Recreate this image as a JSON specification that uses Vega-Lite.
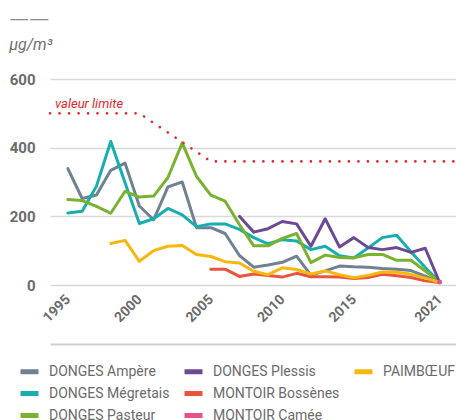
{
  "$schema": "https://vega.github.io/schema/vega-lite/v6.json",
  "width": 406,
  "height": 206,
  "autosize": {"type": "none"},
  "padding": {"left": 50, "top": 79, "right": 0, "bottom": 135},
  "background": "white",
  "title": {
    "text": "——",
    "subtitle": "µg/m³",
    "anchor": "start",
    "frame": "bounds",
    "font": "DejaVu Sans",
    "fontSize": 20,
    "fontWeight": "normal",
    "color": "#8f8f8f",
    "subtitleFont": "Roboto",
    "subtitleFontStyle": "italic",
    "subtitleFontSize": 16,
    "subtitleColor": "#707070",
    "subtitlePadding": 8,
    "offset": 19
  },
  "config": {
    "view": {"stroke": null},
    "font": "Roboto"
  },
  "datasets": {
    "series": [
      {"station": "DONGES Ampère", "year": 1995, "value": 339},
      {"station": "DONGES Ampère", "year": 1996, "value": 252},
      {"station": "DONGES Ampère", "year": 1997, "value": 262},
      {"station": "DONGES Ampère", "year": 1998, "value": 334},
      {"station": "DONGES Ampère", "year": 1999, "value": 355},
      {"station": "DONGES Ampère", "year": 2000, "value": 230},
      {"station": "DONGES Ampère", "year": 2001, "value": 190},
      {"station": "DONGES Ampère", "year": 2002, "value": 286},
      {"station": "DONGES Ampère", "year": 2003, "value": 300},
      {"station": "DONGES Ampère", "year": 2004, "value": 167},
      {"station": "DONGES Ampère", "year": 2005, "value": 167},
      {"station": "DONGES Ampère", "year": 2006, "value": 150},
      {"station": "DONGES Ampère", "year": 2007, "value": 86},
      {"station": "DONGES Ampère", "year": 2008, "value": 52},
      {"station": "DONGES Ampère", "year": 2009, "value": 58},
      {"station": "DONGES Ampère", "year": 2010, "value": 66},
      {"station": "DONGES Ampère", "year": 2011, "value": 84},
      {"station": "DONGES Ampère", "year": 2012, "value": 29},
      {"station": "DONGES Ampère", "year": 2013, "value": 41},
      {"station": "DONGES Ampère", "year": 2014, "value": 55},
      {"station": "DONGES Ampère", "year": 2015, "value": 53},
      {"station": "DONGES Ampère", "year": 2016, "value": 52},
      {"station": "DONGES Ampère", "year": 2017, "value": 48},
      {"station": "DONGES Ampère", "year": 2018, "value": 46},
      {"station": "DONGES Ampère", "year": 2019, "value": 42},
      {"station": "DONGES Ampère", "year": 2020, "value": 26},
      {"station": "DONGES Ampère", "year": 2021, "value": 8},
      {"station": "DONGES Mégretais", "year": 1995, "value": 210},
      {"station": "DONGES Mégretais", "year": 1996, "value": 215},
      {"station": "DONGES Mégretais", "year": 1997, "value": 288},
      {"station": "DONGES Mégretais", "year": 1998, "value": 418},
      {"station": "DONGES Mégretais", "year": 1999, "value": 298},
      {"station": "DONGES Mégretais", "year": 2000, "value": 179},
      {"station": "DONGES Mégretais", "year": 2001, "value": 193},
      {"station": "DONGES Mégretais", "year": 2002, "value": 223},
      {"station": "DONGES Mégretais", "year": 2003, "value": 204},
      {"station": "DONGES Mégretais", "year": 2004, "value": 170},
      {"station": "DONGES Mégretais", "year": 2005, "value": 178},
      {"station": "DONGES Mégretais", "year": 2006, "value": 178},
      {"station": "DONGES Mégretais", "year": 2007, "value": 162},
      {"station": "DONGES Mégretais", "year": 2008, "value": 138},
      {"station": "DONGES Mégretais", "year": 2009, "value": 120},
      {"station": "DONGES Mégretais", "year": 2010, "value": 132},
      {"station": "DONGES Mégretais", "year": 2011, "value": 128},
      {"station": "DONGES Mégretais", "year": 2012, "value": 103},
      {"station": "DONGES Mégretais", "year": 2013, "value": 113},
      {"station": "DONGES Mégretais", "year": 2014, "value": 85},
      {"station": "DONGES Mégretais", "year": 2015, "value": 79},
      {"station": "DONGES Mégretais", "year": 2016, "value": 108},
      {"station": "DONGES Mégretais", "year": 2017, "value": 138},
      {"station": "DONGES Mégretais", "year": 2018, "value": 145},
      {"station": "DONGES Mégretais", "year": 2019, "value": 97},
      {"station": "DONGES Mégretais", "year": 2020, "value": 51},
      {"station": "DONGES Mégretais", "year": 2021, "value": 9},
      {"station": "DONGES Pasteur", "year": 1995, "value": 249},
      {"station": "DONGES Pasteur", "year": 1996, "value": 246},
      {"station": "DONGES Pasteur", "year": 1997, "value": 229},
      {"station": "DONGES Pasteur", "year": 1998, "value": 209},
      {"station": "DONGES Pasteur", "year": 1999, "value": 273},
      {"station": "DONGES Pasteur", "year": 2000, "value": 256},
      {"station": "DONGES Pasteur", "year": 2001, "value": 259},
      {"station": "DONGES Pasteur", "year": 2002, "value": 313},
      {"station": "DONGES Pasteur", "year": 2003, "value": 414},
      {"station": "DONGES Pasteur", "year": 2004, "value": 316},
      {"station": "DONGES Pasteur", "year": 2005, "value": 262},
      {"station": "DONGES Pasteur", "year": 2006, "value": 244},
      {"station": "DONGES Pasteur", "year": 2007, "value": 176},
      {"station": "DONGES Pasteur", "year": 2008, "value": 114},
      {"station": "DONGES Pasteur", "year": 2009, "value": 114},
      {"station": "DONGES Pasteur", "year": 2010, "value": 136},
      {"station": "DONGES Pasteur", "year": 2011, "value": 150},
      {"station": "DONGES Pasteur", "year": 2012, "value": 65},
      {"station": "DONGES Pasteur", "year": 2013, "value": 87},
      {"station": "DONGES Pasteur", "year": 2014, "value": 80},
      {"station": "DONGES Pasteur", "year": 2015, "value": 79},
      {"station": "DONGES Pasteur", "year": 2016, "value": 89},
      {"station": "DONGES Pasteur", "year": 2017, "value": 89},
      {"station": "DONGES Pasteur", "year": 2018, "value": 72},
      {"station": "DONGES Pasteur", "year": 2019, "value": 72},
      {"station": "DONGES Pasteur", "year": 2020, "value": 41},
      {"station": "DONGES Pasteur", "year": 2021, "value": 10},
      {"station": "DONGES Plessis", "year": 2007, "value": 200},
      {"station": "DONGES Plessis", "year": 2008, "value": 154},
      {"station": "DONGES Plessis", "year": 2009, "value": 164},
      {"station": "DONGES Plessis", "year": 2010, "value": 185},
      {"station": "DONGES Plessis", "year": 2011, "value": 178},
      {"station": "DONGES Plessis", "year": 2012, "value": 113},
      {"station": "DONGES Plessis", "year": 2013, "value": 193},
      {"station": "DONGES Plessis", "year": 2014, "value": 111},
      {"station": "DONGES Plessis", "year": 2015, "value": 138},
      {"station": "DONGES Plessis", "year": 2016, "value": 109},
      {"station": "DONGES Plessis", "year": 2017, "value": 103},
      {"station": "DONGES Plessis", "year": 2018, "value": 109},
      {"station": "DONGES Plessis", "year": 2019, "value": 95},
      {"station": "DONGES Plessis", "year": 2020, "value": 107},
      {"station": "DONGES Plessis", "year": 2021, "value": 8},
      {"station": "MONTOIR Bossènes", "year": 2005, "value": 46},
      {"station": "MONTOIR Bossènes", "year": 2006, "value": 46},
      {"station": "MONTOIR Bossènes", "year": 2007, "value": 25},
      {"station": "MONTOIR Bossènes", "year": 2008, "value": 32},
      {"station": "MONTOIR Bossènes", "year": 2009, "value": 28},
      {"station": "MONTOIR Bossènes", "year": 2010, "value": 23},
      {"station": "MONTOIR Bossènes", "year": 2011, "value": 34},
      {"station": "MONTOIR Bossènes", "year": 2012, "value": 24},
      {"station": "MONTOIR Bossènes", "year": 2013, "value": 24},
      {"station": "MONTOIR Bossènes", "year": 2014, "value": 23},
      {"station": "MONTOIR Bossènes", "year": 2015, "value": 19},
      {"station": "MONTOIR Bossènes", "year": 2016, "value": 22},
      {"station": "MONTOIR Bossènes", "year": 2017, "value": 31},
      {"station": "MONTOIR Bossènes", "year": 2018, "value": 27},
      {"station": "MONTOIR Bossènes", "year": 2019, "value": 22},
      {"station": "MONTOIR Bossènes", "year": 2020, "value": 12},
      {"station": "MONTOIR Bossènes", "year": 2021, "value": 7},
      {"station": "MONTOIR Camée", "year": 2021, "value": 9},
      {"station": "PAIMBŒUF", "year": 1998, "value": 121},
      {"station": "PAIMBŒUF", "year": 1999, "value": 130},
      {"station": "PAIMBŒUF", "year": 2000, "value": 69},
      {"station": "PAIMBŒUF", "year": 2001, "value": 100},
      {"station": "PAIMBŒUF", "year": 2002, "value": 113},
      {"station": "PAIMBŒUF", "year": 2003, "value": 115},
      {"station": "PAIMBŒUF", "year": 2004, "value": 89},
      {"station": "PAIMBŒUF", "year": 2005, "value": 83},
      {"station": "PAIMBŒUF", "year": 2006, "value": 68},
      {"station": "PAIMBŒUF", "year": 2007, "value": 64},
      {"station": "PAIMBŒUF", "year": 2008, "value": 40},
      {"station": "PAIMBŒUF", "year": 2009, "value": 30},
      {"station": "PAIMBŒUF", "year": 2010, "value": 50},
      {"station": "PAIMBŒUF", "year": 2011, "value": 45},
      {"station": "PAIMBŒUF", "year": 2012, "value": 32},
      {"station": "PAIMBŒUF", "year": 2013, "value": 41},
      {"station": "PAIMBŒUF", "year": 2014, "value": 30},
      {"station": "PAIMBŒUF", "year": 2015, "value": 21},
      {"station": "PAIMBŒUF", "year": 2016, "value": 28},
      {"station": "PAIMBŒUF", "year": 2017, "value": 38},
      {"station": "PAIMBŒUF", "year": 2018, "value": 37},
      {"station": "PAIMBŒUF", "year": 2019, "value": 31},
      {"station": "PAIMBŒUF", "year": 2020, "value": 20},
      {"station": "PAIMBŒUF", "year": 2021, "value": 8}
    ],
    "limit": [
      {"year": 1993.75, "value": 500},
      {"year": 2000, "value": 500},
      {"year": 2005, "value": 360},
      {"year": 2022.15, "value": 360}
    ],
    "limitLabel": [
      {"year": 1994.1, "value": 500, "label": "valeur limite"}
    ]
  },
  "layer": [
    {
      "data": {"name": "series"},
      "mark": {"type": "line", "strokeWidth": 3, "strokeJoin": "round", "strokeCap": "round"},
      "encoding": {
        "x": {
          "field": "year", "type": "quantitative",
          "scale": {"domain": [1993.75, 2022.15], "nice": false, "zero": false},
          "axis": {
            "orient": "bottom",
            "offset": 59,
            "values": [1995, 2000, 2005, 2010, 2015, 2021],
            "format": "d",
            "title": null,
            "grid": false,
            "domain": true,
            "domainColor": "#cfcfcf",
            "domainWidth": 1.8,
            "ticks": false,
            "labelAngle": -45,
            "labelAlign": "right",
            "labelBaseline": "middle",
            "labelPadding": -47,
            "labelFont": "Roboto",
            "labelFontSize": 14,
            "labelFontWeight": "bold",
            "labelColor": "#6b6b6b"
          }
        },
        "y": {
          "field": "value", "type": "quantitative",
          "scale": {"domain": [0, 600], "nice": false},
          "axis": {
            "values": [0, 100, 200, 300, 400, 500, 600],
            "title": null,
            "domain": false,
            "ticks": false,
            "gridColor": "#d9d9d9",
            "gridWidth": 1.5,
            "labelPadding": 15,
            "labelFont": "Roboto",
            "labelFontSize": 15,
            "labelFontWeight": "bold",
            "labelColor": "#6b6b6b"
          }
        },
        "color": {
          "field": "station", "type": "nominal",
          "scale": {
            "domain": ["DONGES Ampère", "DONGES Mégretais", "DONGES Pasteur", "DONGES Plessis", "MONTOIR Bossènes", "MONTOIR Camée", "PAIMBŒUF", " "],
            "range": ["#6f8192", "#17aeb0", "#79b22f", "#6b4a94", "#e9553d", "#e8508a", "#f8b70f", "transparent"]
          },
          "legend": {
            "title": null,
            "orient": "none",
            "legendX": -32,
            "legendY": 281,
            "columns": 3,
            "padding": 0,
            "columnPadding": 4,
            "rowPadding": 0,
            "symbolType": "stroke",
            "symbolSize": 324,
            "symbolStrokeWidth": 5,
            "labelOffset": 8,
            "labelFont": "Roboto",
            "labelFontSize": 14,
            "labelColor": "#6b6b6b",
            "labelLimit": 200
          }
        }
      }
    },
    {
      "data": {"name": "series"},
      "transform": [{"filter": "datum.station === 'MONTOIR Camée'"}],
      "mark": {"type": "point", "filled": true, "size": 25, "color": "#e8508a", "opacity": 1},
      "encoding": {
        "x": {"field": "year", "type": "quantitative"},
        "y": {"field": "value", "type": "quantitative"}
      }
    },
    {
      "data": {"name": "limit"},
      "mark": {"type": "line", "color": "#e8262d", "strokeWidth": 2.6, "strokeCap": "round", "strokeDash": [0.1, 9.4]},
      "encoding": {
        "x": {"field": "year", "type": "quantitative"},
        "y": {"field": "value", "type": "quantitative"}
      }
    },
    {
      "data": {"name": "limitLabel"},
      "mark": {"type": "text", "align": "left", "baseline": "bottom", "dy": -2, "font": "Roboto", "fontStyle": "italic", "fontSize": 13, "color": "#e8262d"},
      "encoding": {
        "x": {"field": "year", "type": "quantitative"},
        "y": {"field": "value", "type": "quantitative"},
        "text": {"field": "label"}
      }
    }
  ]
}
